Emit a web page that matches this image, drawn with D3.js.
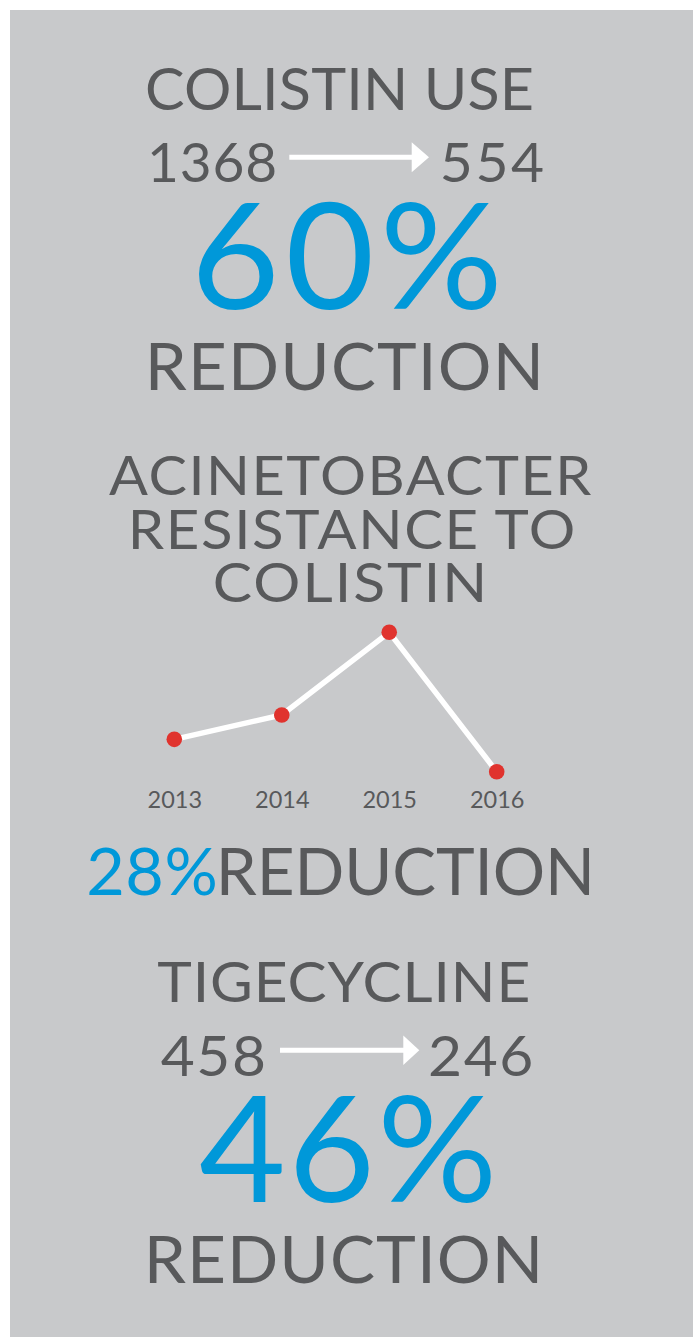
<!DOCTYPE html>
<html>
<head>
<meta charset="utf-8">
<script src="https://cdn.jsdelivr.net/npm/d3@7"></script>
<style>
  html, body { margin: 0; padding: 0; background: #ffffff; }
  svg { display: block; }
</style>
</head>
<body>
<script>
// ---- data ----
const years = ["2013", "2014", "2015", "2016"];
const resistanceIndex = [78.5, 83.4, 100, 72];   // Acinetobacter resistance to colistin (index, 2015 = 100)
const colistinUse = [1368, 554];
const tigecyclineUse = [458, 246];
const reductionLabels = ["60%", "28%", "46%"];
const titles = ["COLISTIN USE", "ACINETOBACTER", "RESISTANCE TO", "COLISTIN", "TIGECYCLINE"];
const reductionWord = "REDUCTION";

// ---- style ----
const W = 693, H = 1337;
const BG = "#c8c9cb", GREY = "#58595b", BLUE = "#0098d9", RED = "#e0332e", WHITE = "#ffffff";
const FONT = "Lato, 'Open Sans', sans-serif";

const svg = d3.select("body").append("svg").attr("width", W).attr("height", H);
svg.append("rect").attr("x", 10).attr("y", 10).attr("width", W - 10).attr("height", H - 10).attr("fill", BG);

// canvas for ink measurement
const ctx = document.createElement("canvas").getContext("2d");
function ink(text, size) {
  ctx.font = `${size}px ${FONT}`;
  const m = ctx.measureText(text);
  return { left: m.actualBoundingBoxLeft, right: m.actualBoundingBoxRight };
}
ctx.font = `100px ${FONT}`;
const capRatio = ctx.measureText("H").actualBoundingBoxAscent / 100;

// place text so its ink spans [left, left+width] with given cap height at baseline
function fitText(text, left, baseline, cap, width, color) {
  const size = cap / capRatio;
  const m = ink(text, size);
  const inkW = m.left + m.right;
  const n = text.length;
  const r = width / inkW;
  const sx = 1 + (r - 1) * 0.55;
  const ls = n > 1 ? (width - inkW * sx) / (n - 1) / sx : 0;
  svg.append("g")
    .attr("transform", `translate(${left},${baseline}) scale(${sx},1)`)
    .append("text")
    .attr("x", m.left)
    .attr("y", 0)
    .attr("font-family", FONT)
    .attr("font-size", size)
    .attr("letter-spacing", ls)
    .attr("fill", color)
    .text(text);
}

function arrow(x0, xBase, xTip, y, half, thick) {
  const p = d3.path();
  p.moveTo(x0, y - thick / 2);
  p.lineTo(xBase, y - thick / 2);
  p.lineTo(xBase, y - half);
  p.lineTo(xTip, y);
  p.lineTo(xBase, y + half);
  p.lineTo(xBase, y + thick / 2);
  p.lineTo(x0, y + thick / 2);
  p.closePath();
  svg.append("path").attr("d", p.toString()).attr("fill", WHITE);
}

// ---- section 1: colistin use ----
fitText(titles[0], 147, 110, 43, 385, GREY);
fitText(String(colistinUse[0]), 151, 181.7, 39, 124, GREY);
arrow(289.3, 411.7, 429, 157.3, 15, 5);
fitText(String(colistinUse[1]), 442, 181.7, 39, 101, GREY);
fitText(reductionLabels[0], 198, 309.3, 107, 299, BLUE);
fitText(reductionWord, 150, 390, 47.5, 388, GREY);

// ---- section 2: resistance line chart ----
fitText(titles[1], 109, 495, 40, 483, GREY);
fitText(titles[2], 133, 549, 40, 442, GREY);
fitText(titles[3], 215, 602.3, 40, 267, GREY);

const x = d3.scalePoint().domain(years).range([174.3, 496.7]);
const y = d3.scaleLinear().domain([72, 100]).range([771.7, 632.3]);
const pts = years.map((yr, i) => ({ yr, v: resistanceIndex[i] }));

svg.append("path")
  .datum(pts)
  .attr("fill", "none")
  .attr("stroke", WHITE)
  .attr("stroke-width", 5.5)
  .attr("stroke-linejoin", "miter")
  .attr("d", d3.line().x(d => x(d.yr)).y(d => y(d.v)));

svg.selectAll("circle.pt").data(pts).join("circle")
  .attr("class", "pt")
  .attr("cx", d => x(d.yr))
  .attr("cy", d => y(d.v))
  .attr("r", 7.8)
  .attr("fill", RED);

const axisG = svg.append("g")
  .attr("transform", "translate(0,791)")
  .call(d3.axisBottom(x).tickSize(0).tickPadding(0));
axisG.select(".domain").remove();
axisG.selectAll("text")
  .attr("font-family", FONT)
  .attr("font-size", 23.5)
  .attr("fill", GREY);

fitText(reductionLabels[1], 89.3, 895, 48, 125.7, BLUE);
fitText(reductionWord, 221.7, 895, 48, 368.3, GREY);

// ---- section 3: tigecycline ----
fitText(titles[4], 157.3, 1002.3, 41.5, 371, GREY);
fitText(String(tigecyclineUse[0]), 160.7, 1076, 41, 102.6, GREY);
arrow(280, 403.3, 419.3, 1050.3, 14.7, 5);
fitText(String(tigecyclineUse[1]), 430, 1076, 41, 101.7, GREY);
fitText(reductionLabels[2], 200, 1201.7, 107, 291.7, BLUE);
fitText(reductionWord, 150, 1283.3, 48, 388, GREY);
</script>
</body>
</html>
